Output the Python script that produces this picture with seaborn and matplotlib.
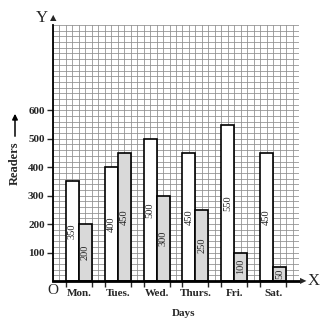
import numpy as np
import pandas as pd
import matplotlib
matplotlib.use("Agg")
import matplotlib.pyplot as plt
import seaborn as sns

days = ["Mon.", "Tues.", "Wed.", "Thurs.", "Fri.", "Sat."]
series_a = [350, 400, 500, 450, 550, 450]
series_b = [200, 450, 300, 250, 100, 50]
y_ticks = [100, 200, 300, 400, 500, 600]

df = pd.DataFrame({
    "day": days * 2,
    "readers": series_a + series_b,
    "group": ["A"] * len(days) + ["B"] * len(days),
})

sns.set_style("white")
plt.rcParams["font.family"] = ["Liberation Serif", "DejaVu Serif"]

fig = plt.figure(figsize=(3.31, 3.24), dpi=100)
ax = fig.add_axes([53 / 331, 1 - 281 / 324, 246 / 331, 256 / 324])

sns.barplot(data=df, x="day", y="readers", hue="group", order=days,
            palette={"A": "white", "B": "#d9d9d9"}, saturation=1,
            width=0.667, gap=0, edgecolor="black", linewidth=1.2,
            legend=False, ax=ax, zorder=3)

xmin, xmax = -0.667, len(days) - 1 + 0.667
ax.set_xlim(xmin, xmax)
ax.set_ylim(0, 900)

# graph-paper grid
for gx in np.arange(xmin, xmax + 1e-6, 1 / 6):
    ax.axvline(gx, color="#8c8c8c", lw=0.55, zorder=1)
for gy in np.arange(0, 901, 20):
    ax.axhline(gy, color="#8c8c8c", lw=0.55, zorder=1)

for c in ax.containers:
    ax.bar_label(c, label_type="center", rotation=90, fontsize=7.5, zorder=4)

for s in ["top", "right"]:
    ax.spines[s].set_visible(False)
ax.spines["left"].set_color("black")
ax.spines["left"].set_linewidth(1.3)
ax.spines["bottom"].set_color("black")
ax.spines["bottom"].set_linewidth(2)
ax.spines["left"].set_zorder(5)
ax.spines["bottom"].set_zorder(5)

ax.set_yticks(y_ticks)
ax.set_yticklabels([str(v) for v in y_ticks], fontsize=8, fontweight="bold")
ax.tick_params(axis="y", which="major", length=4, width=1, direction="out",
               left=True, pad=2)
ax.set_xticks(range(len(days)))
ax.set_xticklabels(days, fontsize=8, fontweight="bold")
ax.tick_params(axis="x", which="major", length=0, pad=6)
edges = [i + d for i in range(len(days)) for d in (-0.333, 0.333)]
ax.set_xticks(edges, minor=True)
ax.tick_params(axis="x", which="minor", length=4, width=1, direction="out",
               bottom=True)
ax.set_xlabel("")
ax.set_ylabel("")

fig.text(184 / 331, 1 - 313 / 324, "Days", fontsize=8, fontweight="bold",
         ha="center", va="center")
fig.text(53 / 331, 1 - 291 / 324, "O", fontsize=11, ha="center", va="center")
fig.text(42 / 331, 1 - 18 / 324, "Y", fontsize=12, ha="center", va="center")
fig.text(53 / 331, 1 - 18 / 324, "▲", fontsize=6, ha="center", va="center",
         family="DejaVu Sans")
fig.text(314 / 331, 1 - 281 / 324, "X", fontsize=12, ha="center", va="center")
fig.text(303 / 331, 1 - 281 / 324, "▶", fontsize=6, ha="center", va="center",
         family="DejaVu Sans")
fig.text(15 / 331, 1 - 163 / 324, "Readers", fontsize=9, fontweight="bold",
         rotation=90, ha="center", va="center")
ax.annotate("", xy=(15 / 331, 1 - 111 / 324), xytext=(15 / 331, 1 - 139 / 324),
            xycoords="figure fraction", textcoords="figure fraction",
            arrowprops=dict(arrowstyle="-|>", color="black", lw=1.1,
                            mutation_scale=8))

fig.savefig("out.png", dpi=100)
